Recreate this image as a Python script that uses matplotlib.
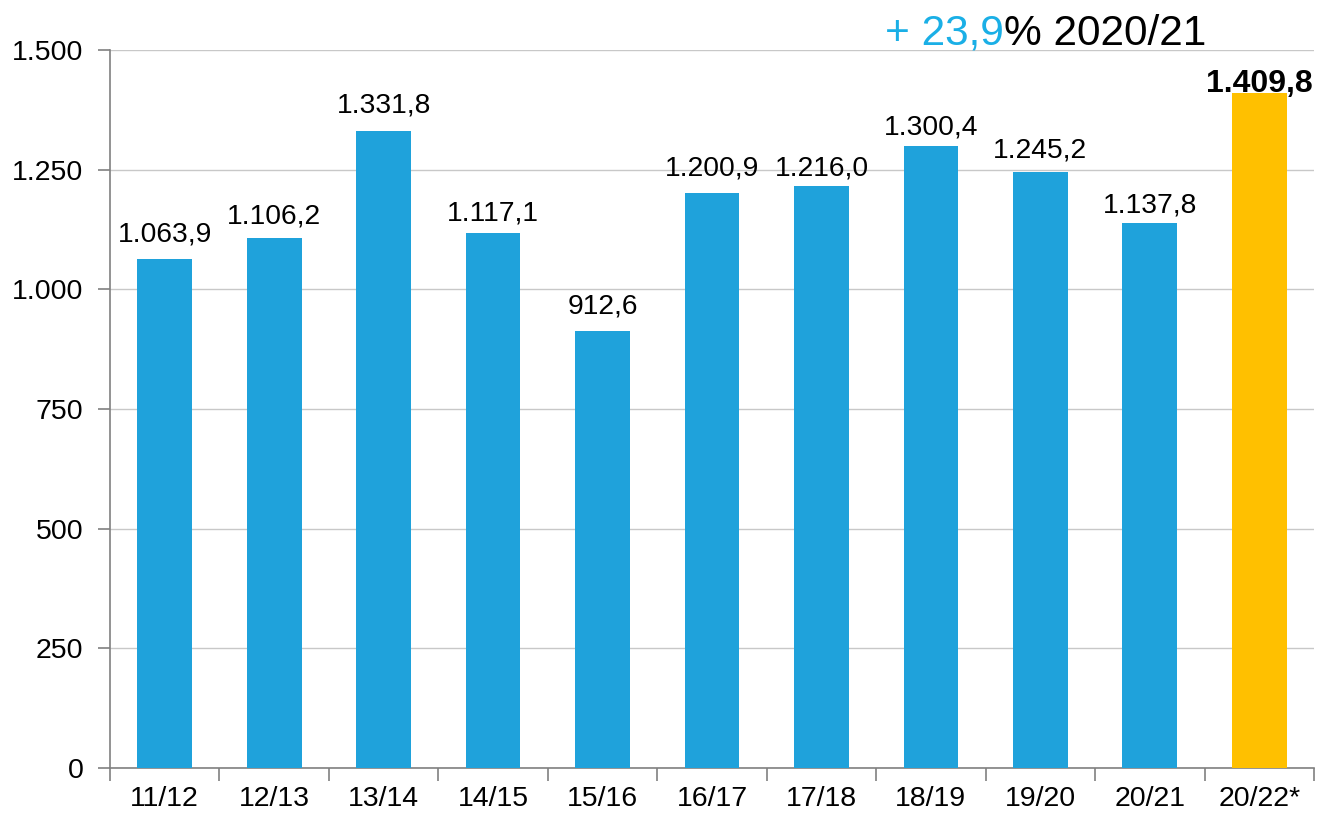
import matplotlib
matplotlib.use("Agg")
import matplotlib.pyplot as plt

plt.rcParams['font.family'] = ['Liberation Sans', 'DejaVu Sans']

# data
seasons = ['11/12', '12/13', '13/14', '14/15', '15/16', '16/17',
           '17/18', '18/19', '19/20', '20/21', '20/22*']
values = [1063.9, 1106.2, 1331.8, 1117.1, 912.6, 1200.9,
          1216.0, 1300.4, 1245.2, 1137.8, 1409.8]
value_labels = ['1.063,9', '1.106,2', '1.331,8', '1.117,1', '912,6', '1.200,9',
                '1.216,0', '1.300,4', '1.245,2', '1.137,8', '1.409,8']
yticks = [0, 250, 500, 750, 1000, 1250, 1500]
ytick_labels = ['0', '250', '500', '750', '1.000', '1.250', '1.500']
change_pct = '+ 23,9'
change_ref = '% 2020/21'

# gap (px) between bar top and label baseline, as placed in the original
label_gap_px = [17, 15, 18, 13, 18, 18, 10, 11, 14, 11, 1]

blue = '#1FA2DB'
yellow = '#FFC000'
colors = [blue] * (len(values) - 1) + [yellow]

fig = plt.figure(figsize=(13.19, 8.17), dpi=100)
ax = fig.add_axes([0.0834, 0.06, 0.9128, 0.8788])

x = range(len(seasons))
bars = ax.bar(x, values, width=0.5, color=colors, zorder=3)

ax.set_xlim(-0.5, len(seasons) - 0.5)
ax.set_ylim(0, 1500)
ax.set_yticks(yticks)
ax.set_yticklabels(ytick_labels, fontsize=20.5)
ax.yaxis.grid(True, color='#c8c8c8', linewidth=1, zorder=0)

# category labels in the middle, tick marks on the boundaries
ax.set_xticks(list(x))
ax.set_xticklabels(seasons, fontsize=20.5)
ax.tick_params(axis='x', which='major', length=0, pad=13)
ax.set_xticks([i - 0.5 for i in range(len(seasons) + 1)], minor=True)
ax.tick_params(axis='x', which='minor', length=9, width=1.2, color='#808080')
ax.tick_params(axis='y', length=9, width=1.2, color='#808080', pad=10)

for side in ['top', 'right']:
    ax.spines[side].set_visible(False)
for side in ['left', 'bottom']:
    ax.spines[side].set_color('#808080')
    ax.spines[side].set_linewidth(1.2)

for i, (b, lab) in enumerate(zip(bars, value_labels)):
    last = i == len(values) - 1
    ax.annotate(lab, (b.get_x() + b.get_width() / 2, b.get_height()),
                xytext=(0, label_gap_px[i] * 0.72), textcoords='offset points',
                ha='center', va='baseline',
                fontsize=23 if last else 20.3,
                fontweight='bold' if last else 'normal')

# headline: change vs previous season
t1 = fig.text(885 / 1319, 1 - 45 / 817, change_pct, fontsize=30.5,
              color='#1AAFE6', ha='left', va='baseline')
fig.canvas.draw()
bb = t1.get_window_extent(fig.canvas.get_renderer())
fig.text(bb.x1 / fig.bbox.width, 1 - 45 / 817, change_ref, fontsize=30.5,
         color='black', ha='left', va='baseline')

fig.savefig('out.png', dpi=100)
